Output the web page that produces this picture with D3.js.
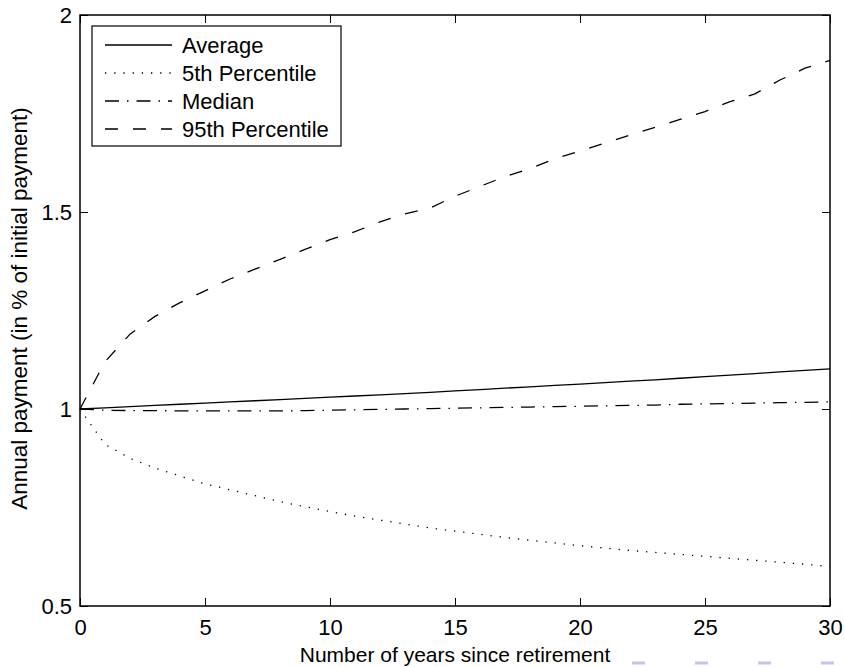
<!DOCTYPE html>
<html>
<head>
<meta charset="utf-8">
<script src="https://cdn.jsdelivr.net/npm/d3@7"></script>
<style>
  body { margin: 0; background: #fff; }
  text { font-family: "Liberation Sans", Arial, Helvetica, sans-serif; fill: #000; }
</style>
</head>
<body>
<div id="chart"></div>
<script>
// data (value per year since retirement)
var years = [0, 1, 2, 3, 4, 5, 6, 7, 8, 9, 10, 11, 12, 13, 14, 15, 16, 17, 18, 19, 20, 21, 22, 23, 24, 25, 26, 27, 28, 29, 30];

var average = [1.000, 1.003, 1.006, 1.009, 1.012, 1.015, 1.018, 1.021, 1.024, 1.027, 1.030, 1.033, 1.036, 1.039, 1.042, 1.046, 1.049, 1.053, 1.056, 1.060, 1.063, 1.067, 1.071, 1.074, 1.078, 1.082, 1.086, 1.090, 1.094, 1.098, 1.102];

var pct5 = [1.000, 0.910, 0.875, 0.850, 0.830, 0.810, 0.795, 0.780, 0.765, 0.752, 0.740, 0.728, 0.718, 0.708, 0.698, 0.690, 0.682, 0.674, 0.667, 0.660, 0.653, 0.647, 0.641, 0.636, 0.631, 0.626, 0.621, 0.616, 0.611, 0.606, 0.600];

var median = [1.000, 0.997, 0.996, 0.996, 0.995, 0.995, 0.995, 0.995, 0.995, 0.996, 0.997, 0.998, 0.999, 1.000, 1.001, 1.002, 1.003, 1.004, 1.005, 1.006, 1.007, 1.008, 1.009, 1.010, 1.012, 1.013, 1.014, 1.015, 1.016, 1.017, 1.018];

var pct95 = [1.000, 1.120, 1.190, 1.235, 1.270, 1.300, 1.330, 1.355, 1.380, 1.405, 1.430, 1.450, 1.475, 1.495, 1.510, 1.540, 1.565, 1.590, 1.610, 1.635, 1.655, 1.675, 1.695, 1.715, 1.735, 1.755, 1.780, 1.800, 1.835, 1.865, 1.885];

var seriesNames = ["Average", "5th Percentile", "Median", "95th Percentile"];
var xTicks = [0, 5, 10, 15, 20, 25, 30];
var yTicks = [0.5, 1, 1.5, 2];
var yTickLabels = ["0.5", "1", "1.5", "2"];

// line style per series
var dashes = ["none", "1.3,7.9", "14,8,1.5,8", "13,15"];
var seriesValues = [average, pct5, median, pct95];

// set the dimensions and margins of the graph
var margin = { top: 15, right: 15, bottom: 61, left: 80 },
    width = 845 - margin.left - margin.right,
    height = 667 - margin.top - margin.bottom;

var root = d3.select("#chart")
    .append("svg")
    .attr("width", 845)
    .attr("height", 667);

var svg = root.append("g")
    .attr("transform", "translate(" + margin.left + "," + margin.top + ")");

var x = d3.scaleLinear().domain([0, 30]).range([0, width]);
var y = d3.scaleLinear().domain([0.5, 2]).range([height, 0]);

// axes, ticks point inward like matlab
svg.append("g")
    .attr("class", "axis")
    .attr("transform", "translate(0," + height + ")")
    .call(d3.axisBottom(x).tickValues(xTicks).tickSize(-8).tickPadding(13));
svg.append("g")
    .attr("class", "axis")
    .call(d3.axisTop(x).tickValues(xTicks).tickSize(-8).tickFormat(""));
svg.append("g")
    .attr("class", "axis")
    .call(d3.axisLeft(y).tickValues(yTicks).tickSize(-8).tickPadding(8)
        .tickFormat(function (d, i) { return yTickLabels[i]; }));
svg.append("g")
    .attr("class", "axis")
    .attr("transform", "translate(" + width + ",0)")
    .call(d3.axisRight(y).tickValues(yTicks).tickSize(-8).tickFormat(""));

svg.selectAll(".axis .domain").remove();
svg.selectAll(".axis line").attr("stroke", "#000").attr("stroke-width", 1);
svg.selectAll(".axis text")
    .style("font-size", "22px")
    .attr("fill", "#000");

// the lines
var line = d3.line()
    .x(function (d, i) { return x(years[i]); })
    .y(function (d) { return y(d); });

seriesValues.forEach(function (vals, i) {
    svg.append("path")
        .datum(vals)
        .attr("fill", "none")
        .attr("stroke", "#000")
        .attr("stroke-width", 1.3)
        .attr("stroke-dasharray", dashes[i])
        .attr("d", line);
});

// box around the plot
svg.append("rect")
    .attr("width", width)
    .attr("height", height)
    .attr("fill", "none")
    .attr("stroke", "#000")
    .attr("stroke-width", 1.5);

// legend
var legend = svg.append("g")
    .attr("transform", "translate(12,11)");
legend.append("rect")
    .attr("width", 249)
    .attr("height", 120)
    .attr("fill", "#fff")
    .attr("stroke", "#000")
    .attr("stroke-width", 1.2);

seriesNames.forEach(function (name, i) {
    var ly = 19 + i * 28;
    legend.append("line")
        .attr("x1", 13).attr("x2", 80)
        .attr("y1", ly).attr("y2", ly)
        .attr("stroke", "#000")
        .attr("stroke-width", 1.3)
        .attr("stroke-dasharray", dashes[i]);
    legend.append("text")
        .attr("x", 90)
        .attr("y", ly)
        .attr("dy", "0.36em")
        .style("font-size", "22px")
        .text(name);
});

// axis titles
svg.append("text")
    .attr("x", width / 2)
    .attr("y", height + 56)
    .attr("text-anchor", "middle")
    .style("font-size", "21px")
    .text("Number of years since retirement");

svg.append("text")
    .attr("transform", "translate(-53," + (height / 2 - 2) + ") rotate(-90)")
    .attr("text-anchor", "middle")
    .style("font-size", "22.5px")
    .text("Annual payment (in % of initial payment)");

// faint marks left over at the bottom edge of the picture
root.append("line")
    .attr("x1", 632).attr("x2", 845)
    .attr("y1", 663).attr("y2", 663)
    .attr("stroke", "#c4c4f0")
    .attr("stroke-width", 3)
    .attr("stroke-dasharray", "13,50");
</script>
</body>
</html>
